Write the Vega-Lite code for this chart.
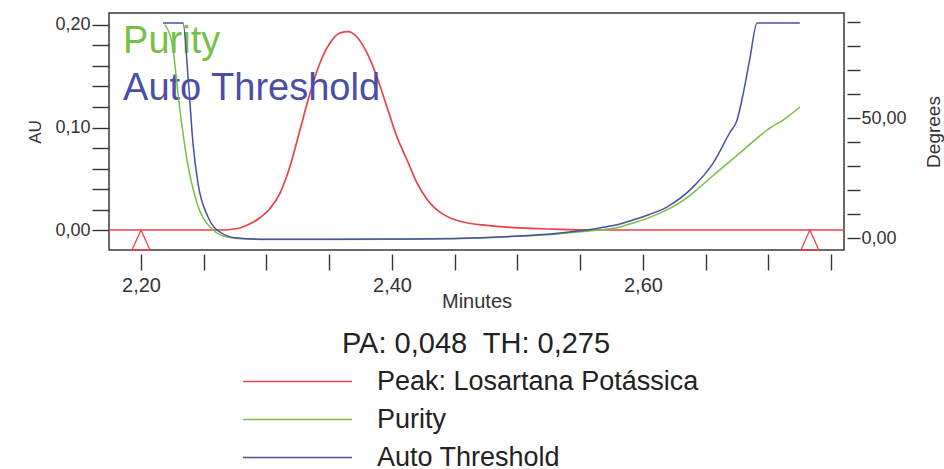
{
  "$schema": "https://vega.github.io/schema/vega-lite/v6.json",
  "width": 735,
  "height": 237,
  "autosize": {"type": "none"},
  "padding": {"left": 109, "top": 13, "right": 100, "bottom": 219},
  "background": "white",
  "config": {
    "font": "Liberation Sans",
    "view": {"stroke": "#3a3a3a", "strokeWidth": 1.5},
    "axis": {"grid": false, "domain": false, "tickColor": "#333", "labelColor": "#333", "titleColor": "#333", "labelFont": "Liberation Sans", "titleFont": "Liberation Sans", "titleFontWeight": "normal", "tickWidth": 1.4, "labelOverlap": false, "labelFlush": false}
  },
  "layer": [
    {
      "layer": [
        {
          "data": {"values": [
            {"time": 2.1745, "au": 0, "series": "Peak: Losartana Potássica"},
            {"time": 2.2, "au": 0, "series": "Peak: Losartana Potássica"},
            {"time": 2.24, "au": 0, "series": "Peak: Losartana Potássica"},
            {"time": 2.262, "au": 0, "series": "Peak: Losartana Potássica"},
            {"time": 2.2709, "au": 0.0005, "series": "Peak: Losartana Potássica"},
            {"time": 2.2789, "au": 0.002, "series": "Peak: Losartana Potássica"},
            {"time": 2.2869, "au": 0.006, "series": "Peak: Losartana Potássica"},
            {"time": 2.2948, "au": 0.012, "series": "Peak: Losartana Potássica"},
            {"time": 2.3028, "au": 0.021, "series": "Peak: Losartana Potássica"},
            {"time": 2.3108, "au": 0.036, "series": "Peak: Losartana Potássica"},
            {"time": 2.3187, "au": 0.062, "series": "Peak: Losartana Potássica"},
            {"time": 2.3267, "au": 0.0976, "series": "Peak: Losartana Potássica"},
            {"time": 2.3347, "au": 0.1337, "series": "Peak: Losartana Potássica"},
            {"time": 2.3426, "au": 0.1629, "series": "Peak: Losartana Potássica"},
            {"time": 2.3506, "au": 0.1824, "series": "Peak: Losartana Potássica"},
            {"time": 2.3586, "au": 0.1922, "series": "Peak: Losartana Potássica"},
            {"time": 2.3649, "au": 0.1935, "series": "Peak: Losartana Potássica"},
            {"time": 2.3721, "au": 0.1883, "series": "Peak: Losartana Potássica"},
            {"time": 2.3801, "au": 0.1727, "series": "Peak: Losartana Potássica"},
            {"time": 2.388, "au": 0.1493, "series": "Peak: Losartana Potássica"},
            {"time": 2.396, "au": 0.12, "series": "Peak: Losartana Potássica"},
            {"time": 2.404, "au": 0.0907, "series": "Peak: Losartana Potássica"},
            {"time": 2.412, "au": 0.0683, "series": "Peak: Losartana Potássica"},
            {"time": 2.4199, "au": 0.0459, "series": "Peak: Losartana Potássica"},
            {"time": 2.4279, "au": 0.03, "series": "Peak: Losartana Potássica"},
            {"time": 2.434, "au": 0.0215, "series": "Peak: Losartana Potássica"},
            {"time": 2.4406, "au": 0.0155, "series": "Peak: Losartana Potássica"},
            {"time": 2.448, "au": 0.011, "series": "Peak: Losartana Potássica"},
            {"time": 2.4566, "au": 0.0078, "series": "Peak: Losartana Potássica"},
            {"time": 2.4757, "au": 0.0045, "series": "Peak: Losartana Potássica"},
            {"time": 2.502, "au": 0.002, "series": "Peak: Losartana Potássica"},
            {"time": 2.5283, "au": 0.0008, "series": "Peak: Losartana Potássica"},
            {"time": 2.5554, "au": 0, "series": "Peak: Losartana Potássica"},
            {"time": 2.6, "au": 0, "series": "Peak: Losartana Potássica"},
            {"time": 2.7602, "au": 0, "series": "Peak: Losartana Potássica"}
          ]},
          "mark": {"type": "line", "strokeWidth": 1.7, "interpolate": "monotone"},
          "encoding": {
            "x": {"field": "time", "type": "quantitative", "scale": {"domain": [2.1745, 2.7602], "nice": false, "zero": false},
              "axis": {"orient": "bottom", "offset": 4, "values": [2.2, 2.25, 2.3, 2.35, 2.4, 2.45, 2.5, 2.55, 2.6, 2.65, 2.7, 2.75],
                "labelExpr": "abs(datum.value*5 - round(datum.value*5)) < 0.001 ? replace(format(datum.value, '.2f'), '.', ',') : ''",
                "tickSize": 16, "labelPadding": 5, "labelFontSize": 20,
                "title": "Minutes", "titleFontSize": 20, "titlePadding": -4,
                "encode": {"ticks": {"update": {"y2": {"signal": "abs(datum.value*5 - round(datum.value*5)) < 0.001 ? 16 : 9"}}}}}},
            "y": {"field": "au", "type": "quantitative", "scale": {"domain": [-0.0195, 0.2117], "nice": false, "zero": false},
              "axis": {"orient": "left", "values": [0, 0.02, 0.04, 0.06, 0.08, 0.1, 0.12, 0.14, 0.16, 0.18, 0.2],
                "labelExpr": "abs(datum.value*10 - round(datum.value*10)) < 0.001 ? replace(format(datum.value, '.2f'), '.', ',') : ''",
                "tickSize": 17, "labelPadding": 2, "labelFontSize": 18,
                "title": "AU", "titleFontSize": 17, "titlePadding": 10,
                "encode": {"ticks": {"update": {"x2": {"signal": "abs(datum.value*10 - round(datum.value*10)) < 0.001 ? -17 : -9"}}}}}},
            "color": {"field": "series", "type": "nominal",
              "scale": {"domain": ["Peak: Losartana Potássica", "Purity", "Auto Threshold"], "range": ["#e8424a", "#78c045", "#4a4fa3"]},
              "legend": {"orient": "none", "legendX": 175, "legendY": 317, "padding": 0,
                "title": "PA: 0,048\u00a0 TH: 0,275", "titleFontSize": 29, "titleFontWeight": "normal", "titleColor": "#222", "titleAnchor": "middle", "titlePadding": 9, "titleFont": "Liberation Sans", "titleLimit": 700,
                "symbolType": "M-5,0H5", "symbolSize": 475, "symbolStrokeWidth": 1.5,
                "labelFontSize": 27, "labelFont": "Liberation Sans", "labelColor": "#222", "labelOffset": 66, "labelLimit": 700, "rowPadding": 10,
                "encode": {"title": {"update": {"dx": {"value": -15}}}}}}
          }
        },
        {
          "data": {"values": [{"time": 2.2, "au": 0}, {"time": 2.733, "au": 0}]},
          "mark": {"type": "point", "shape": "M0,0L0.45,1L-0.45,1Z", "size": 1600, "filled": false, "stroke": "#e8424a", "strokeWidth": 1.3, "opacity": 1},
          "encoding": {
            "x": {"field": "time", "type": "quantitative", "scale": {"domain": [2.1745, 2.7602], "nice": false, "zero": false}},
            "y": {"field": "au", "type": "quantitative", "scale": {"domain": [-0.0195, 0.2117], "nice": false, "zero": false},
              "axis": {"orient": "left", "values": [0, 0.02, 0.04, 0.06, 0.08, 0.1, 0.12, 0.14, 0.16, 0.18, 0.2],
                "labelExpr": "abs(datum.value*10 - round(datum.value*10)) < 0.001 ? replace(format(datum.value, '.2f'), '.', ',') : ''",
                "tickSize": 17, "labelPadding": 2, "labelFontSize": 18,
                "title": "AU", "titleFontSize": 17, "titlePadding": 10,
                "encode": {"ticks": {"update": {"x2": {"signal": "abs(datum.value*10 - round(datum.value*10)) < 0.001 ? -17 : -9"}}}}}}
          }
        },
        {
          "data": {"values": [{"label": "Purity", "time": 2.1857, "au": 0.1727}]},
          "mark": {"type": "text", "align": "left", "baseline": "alphabetic", "fontSize": 38, "color": "#78c045"},
          "encoding": {
            "x": {"field": "time", "type": "quantitative", "scale": {"domain": [2.1745, 2.7602], "nice": false, "zero": false}},
            "y": {"field": "au", "type": "quantitative", "scale": {"domain": [-0.0195, 0.2117], "nice": false, "zero": false},
              "axis": {"orient": "left", "values": [0, 0.02, 0.04, 0.06, 0.08, 0.1, 0.12, 0.14, 0.16, 0.18, 0.2],
                "labelExpr": "abs(datum.value*10 - round(datum.value*10)) < 0.001 ? replace(format(datum.value, '.2f'), '.', ',') : ''",
                "tickSize": 17, "labelPadding": 2, "labelFontSize": 18,
                "title": "AU", "titleFontSize": 17, "titlePadding": 10,
                "encode": {"ticks": {"update": {"x2": {"signal": "abs(datum.value*10 - round(datum.value*10)) < 0.001 ? -17 : -9"}}}}}},
            "text": {"field": "label"}
          }
        },
        {
          "data": {"values": [{"label": "Auto Threshold", "time": 2.1857, "au": 0.1268}]},
          "mark": {"type": "text", "align": "left", "baseline": "alphabetic", "fontSize": 38, "color": "#4a4fa3"},
          "encoding": {
            "x": {"field": "time", "type": "quantitative", "scale": {"domain": [2.1745, 2.7602], "nice": false, "zero": false}},
            "y": {"field": "au", "type": "quantitative", "scale": {"domain": [-0.0195, 0.2117], "nice": false, "zero": false},
              "axis": {"orient": "left", "values": [0, 0.02, 0.04, 0.06, 0.08, 0.1, 0.12, 0.14, 0.16, 0.18, 0.2],
                "labelExpr": "abs(datum.value*10 - round(datum.value*10)) < 0.001 ? replace(format(datum.value, '.2f'), '.', ',') : ''",
                "tickSize": 17, "labelPadding": 2, "labelFontSize": 18,
                "title": "AU", "titleFontSize": 17, "titlePadding": 10,
                "encode": {"ticks": {"update": {"x2": {"signal": "abs(datum.value*10 - round(datum.value*10)) < 0.001 ? -17 : -9"}}}}}},
            "text": {"field": "label"}
          }
        }
      ]
    },
    {
      "data": {"values": [
        {"time": 2.219, "deg": 88.8, "series": "Purity"},
        {"time": 2.2247, "deg": 81.3, "series": "Purity"},
        {"time": 2.231, "deg": 53.3, "series": "Purity"},
        {"time": 2.2367, "deg": 32.5, "series": "Purity"},
        {"time": 2.2446, "deg": 14.6, "series": "Purity"},
        {"time": 2.255, "deg": 4.6, "series": "Purity"},
        {"time": 2.2685, "deg": 0.4, "series": "Purity"},
        {"time": 2.28, "deg": -0.3, "series": "Purity"},
        {"time": 2.3, "deg": -0.6, "series": "Purity"},
        {"time": 2.35, "deg": -0.6, "series": "Purity"},
        {"time": 2.4, "deg": -0.5, "series": "Purity"},
        {"time": 2.45, "deg": -0.3, "series": "Purity"},
        {"time": 2.48, "deg": 0.2, "series": "Purity"},
        {"time": 2.5, "deg": 0.7, "series": "Purity"},
        {"time": 2.53, "deg": 1.6, "series": "Purity"},
        {"time": 2.55, "deg": 2.6, "series": "Purity"},
        {"time": 2.5657, "deg": 3.3, "series": "Purity"},
        {"time": 2.5817, "deg": 4.6, "series": "Purity"},
        {"time": 2.592, "deg": 6.25, "series": "Purity"},
        {"time": 2.605, "deg": 8.5, "series": "Purity"},
        {"time": 2.619, "deg": 11.7, "series": "Purity"},
        {"time": 2.633, "deg": 16, "series": "Purity"},
        {"time": 2.6454, "deg": 21.25, "series": "Purity"},
        {"time": 2.661, "deg": 28.3, "series": "Purity"},
        {"time": 2.68, "deg": 36.7, "series": "Purity"},
        {"time": 2.699, "deg": 45, "series": "Purity"},
        {"time": 2.715, "deg": 50.4, "series": "Purity"},
        {"time": 2.725, "deg": 54.6, "series": "Purity"},
        {"time": 2.2175, "deg": 89.6, "series": "Auto Threshold"},
        {"time": 2.2335, "deg": 89.6, "series": "Auto Threshold"},
        {"time": 2.2375, "deg": 67.1, "series": "Auto Threshold"},
        {"time": 2.2414, "deg": 39.6, "series": "Auto Threshold"},
        {"time": 2.2454, "deg": 22.9, "series": "Auto Threshold"},
        {"time": 2.2534, "deg": 8.75, "series": "Auto Threshold"},
        {"time": 2.2629, "deg": 2.5, "series": "Auto Threshold"},
        {"time": 2.2765, "deg": 0, "series": "Auto Threshold"},
        {"time": 2.3, "deg": -0.5, "series": "Auto Threshold"},
        {"time": 2.35, "deg": -0.5, "series": "Auto Threshold"},
        {"time": 2.4, "deg": -0.4, "series": "Auto Threshold"},
        {"time": 2.45, "deg": -0.2, "series": "Auto Threshold"},
        {"time": 2.48, "deg": 0.3, "series": "Auto Threshold"},
        {"time": 2.5, "deg": 0.8, "series": "Auto Threshold"},
        {"time": 2.53, "deg": 1.9, "series": "Auto Threshold"},
        {"time": 2.55, "deg": 3.0, "series": "Auto Threshold"},
        {"time": 2.5657, "deg": 4.2, "series": "Auto Threshold"},
        {"time": 2.5817, "deg": 5.8, "series": "Auto Threshold"},
        {"time": 2.592, "deg": 7.5, "series": "Auto Threshold"},
        {"time": 2.605, "deg": 9.8, "series": "Auto Threshold"},
        {"time": 2.619, "deg": 12.9, "series": "Auto Threshold"},
        {"time": 2.64, "deg": 21.3, "series": "Auto Threshold"},
        {"time": 2.656, "deg": 31.3, "series": "Auto Threshold"},
        {"time": 2.669, "deg": 43.75, "series": "Auto Threshold"},
        {"time": 2.675, "deg": 49.2, "series": "Auto Threshold"},
        {"time": 2.68, "deg": 60.4, "series": "Auto Threshold"},
        {"time": 2.685, "deg": 74.2, "series": "Auto Threshold"},
        {"time": 2.691, "deg": 89.6, "series": "Auto Threshold"},
        {"time": 2.725, "deg": 89.6, "series": "Auto Threshold"}
      ]},
      "mark": {"type": "line", "strokeWidth": 1.5, "interpolate": "monotone"},
      "encoding": {
        "x": {"field": "time", "type": "quantitative", "scale": {"domain": [2.1745, 2.7602], "nice": false, "zero": false}},
        "y": {"field": "deg", "type": "quantitative", "scale": {"domain": [-5, 93.75], "nice": false, "zero": false},
          "axis": {"orient": "right", "offset": 3, "values": [0, 10, 20, 30, 40, 50, 60, 70, 80, 90],
            "labelExpr": "datum.value % 50 == 0 ? replace(format(datum.value, '.2f'), '.', ',') : ''",
            "tickSize": 13, "labelPadding": 1, "labelFontSize": 18,
            "title": "Degrees", "titleFontSize": 19, "titleAngle": -90, "titleBaseline": "top", "titlePadding": 18,
            "encode": {"ticks": {"update": {"x2": {"signal": "datum.value % 50 == 0 ? 13 : 6"}}}}}},
        "color": {"field": "series", "type": "nominal",
          "scale": {"domain": ["Peak: Losartana Potássica", "Purity", "Auto Threshold"], "range": ["#e8424a", "#78c045", "#4a4fa3"]},
          "legend": null}
      }
    }
  ],
  "resolve": {"scale": {"y": "independent"}}
}
